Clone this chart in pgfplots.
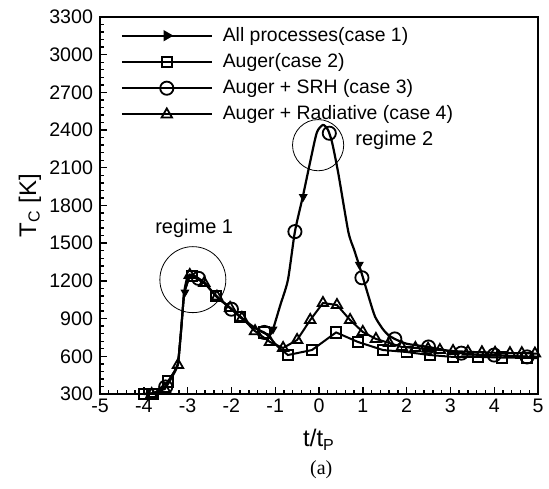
\documentclass[border=0pt]{standalone}
\usepackage{pgfplots}
\pgfplotsset{compat=1.18}
\usepackage{fontspec}
\setmainfont{Liberation Sans}
\newfontfamily\seriffont{Liberation Serif}
\begin{document}
\begin{tikzpicture}
\begin{axis}[
  scale only axis, width=219pt, height=188.5pt,
  xmin=-5, xmax=5, ymin=300, ymax=3300,
  xtick={-5,-4,-3,-2,-1,0,1,2,3,4,5},
  xticklabels={-5,-4,-3,-2,-1,0,1,2,3,4,5},
  ytick={300,600,900,1200,1500,1800,2100,2400,2700,3000,3300},
  yticklabels={300,600,900,1200,1500,1800,2100,2400,2700,3000,3300},
  minor x tick num=4, minor y tick num=4,
  tick align=inside, xtick pos=bottom, ytick pos=left,
  major tick length=3.5pt, minor tick length=2pt,
  axis line style={line width=1pt},
  every tick/.style={black, line width=0.7pt},
  tick label style={font=\fontsize{9.8}{11}\selectfont},
  xticklabel style={yshift=1pt},
  clip=false,
  xlabel={t/t\textsubscript{P}},
  ylabel={T\textsubscript{C} [K]},
  every axis x label/.style={at={(axis description cs:0.5,-0.122)}, anchor=center, font=\fontsize{12}{14}\selectfont},
  every axis y label/.style={at={(axis description cs:-0.16,0.5)}, rotate=90, anchor=center, font=\fontsize{12}{14}\selectfont},
  legend style={draw=none, fill=none, at={(0.042,0.99)}, anchor=north west,
    font=\fontsize{9.7}{11}\selectfont, row sep=0.6pt, inner sep=1pt,
    /tikz/every odd column/.append style={column sep=3pt}},
  legend cell align=left,
  legend image code/.code={\draw[mark repeat=2,mark phase=2] plot coordinates {(0pt,0pt)(22.5pt,0pt)(45pt,0pt)};},
]
\addlegendimage{black, line width=1pt, mark=triangle*, mark size=2.3pt, mark options={rotate=-90, fill=black, solid}}
\addlegendentry{All processes(case 1)}
\addlegendimage{black, line width=1pt, mark=square, mark size=2.6pt, mark options={fill=white, line width=0.9pt}}
\addlegendentry{Auger(case 2)}
\addlegendimage{black, line width=1pt, mark=o, mark size=3.3pt, mark options={fill=white, line width=0.9pt}}
\addlegendentry{Auger + SRH (case 3)}
\addlegendimage{black, line width=1pt, mark=triangle, mark size=3pt, mark options={fill=white, line width=0.9pt}}
\addlegendentry{Auger + Radiative (case 4)}

% case 2 line
\addplot[black, line width=1pt, forget plot] coordinates {
(-4.0,300)(-3.75,308)(-3.45,400)(-3.3,480)(-3.22,540)(-3.15,800)(-3.08,1104)(-2.95,1240)(-2.9,1240)(-2.75,1215)(-2.6,1180)(-2.35,1080)(-2.03,985)(-1.8,910)(-1.5,830)(-1.25,790)(-1.1,740)(-0.95,680)(-0.71,610)(-0.16,650)(0.39,790)(0.89,714)(1.46,650)(2.0,634)(2.53,610)(3.06,595)(3.63,595)(4.18,590)(4.75,587)(5,585)};
% case 4 line
\addplot[black, line width=1pt, forget plot] coordinates {
(-4.0,300)(-3.82,300)(-3.52,340)(-3.22,531)(-3.15,800)(-3.08,1104)(-2.95,1247)(-2.62,1183)(-2.33,1075)(-2.03,985)(-1.76,905)(-1.46,800)(-1.12,714)(-0.82,666)(-0.5,730)(-0.2,889)(0.09,1024)(0.41,1008)(0.71,889)(1.0,794)(1.3,738)(1.6,706)(1.89,674)(2.2,666)(2.49,660)(2.76,650)(3.06,642)(3.4,636)(3.72,632)(4.02,628)(4.36,625)(4.63,625)(4.93,622)(5,622)};
% case 1 / case 3 line
\addplot[black, line width=1.1pt, smooth, tension=0.4, forget plot] coordinates {
(-4.0,300)(-3.75,308)(-3.5,356)(-3.35,440)(-3.22,540)(-3.15,800)(-3.08,1104)(-3.0,1235)(-2.9,1250)(-2.75,1220)(-2.6,1180)(-2.33,1072)(-2.03,985)(-1.76,905)(-1.5,835)(-1.28,790)(-1.12,772)(-1.05,815)(-0.89,1000)(-0.71,1207)(-0.55,1592)(-0.37,1870)(-0.2,2150)(-0.05,2380)(0.09,2441)(0.2,2405)(0.3,2300)(0.44,2057)(0.67,1590)(0.8,1450)(0.92,1320)(1.0,1230)(1.15,1055)(1.28,915)(1.45,820)(1.58,770)(1.73,738)(2.0,700)(2.5,674)(3.0,640)(3.25,625)(3.5,615)(4.0,610)(4.5,600)(4.75,595)(5.0,592)};

% case 2 marks
\addplot[only marks, mark=square, mark size=2.6pt, mark options={fill=white, line width=0.9pt}, forget plot] coordinates {
(-4.0,300)(-3.8,300)(-3.45,400)(-2.9,1240)(-2.35,1080)(-1.8,910)(-1.25,790)(-0.71,610)(-0.16,650)(0.39,790)(0.89,714)(1.46,650)(2.0,634)(2.53,610)(3.06,595)(3.63,595)(4.18,590)(4.75,587)};
% case 3 marks
\addplot[only marks, mark=o, mark size=3.3pt, mark options={fill=white, line width=0.9pt}, forget plot] coordinates {
(-3.5,356)(-2.75,1220)(-2.0,975)(-1.25,790)(-0.55,1592)(0.235,2375)(0.98,1225)(1.73,738)(2.5,674)(3.25,625)(4.0,610)(4.75,595)};
% case 4 marks
\addplot[only marks, mark=triangle, mark size=3pt, mark options={fill=white, line width=0.9pt}, forget plot] coordinates {
(-3.82,300)(-3.52,340)(-3.22,531)(-2.95,1247)(-2.62,1183)(-2.33,1075)(-2.03,985)(-1.76,905)(-1.46,800)(-1.12,714)(-0.82,666)(-0.5,730)(-0.2,889)(0.09,1024)(0.41,1008)(0.71,889)(1.0,794)(1.3,738)(1.6,706)(1.89,674)(2.2,666)(2.49,660)(2.76,650)(3.06,642)(3.4,636)(3.72,632)(4.02,628)(4.36,625)(4.63,625)(4.93,622)};
% case 1 arrow marks
\addplot[only marks, mark=triangle*, mark size=2.2pt, mark options={rotate=180, fill=black}, forget plot] coordinates {
(-3.06,1110)(-1.05,815)(-0.36,1870)(0.92,1330)};

\draw[line width=0.4pt] (axis cs:-2.88,1210) circle[radius=16.5pt];
\draw[line width=0.4pt] (axis cs:-0.02,2280) circle[radius=12.8pt];
\node[font=\fontsize{10}{12}\selectfont] at (axis cs:-2.85,1620) {regime 1};
\node[font=\fontsize{10}{12}\selectfont] at (axis cs:1.72,2322) {regime 2};
\node[font=\seriffont\fontsize{10}{12}\selectfont] at (axis description cs:0.505,-0.2) {(a)};
\end{axis}
\pgfresetboundingbox
\path[use as bounding box] (current axis.south west) ++(-50pt,-47.5pt) rectangle ([shift={(5.5pt,8.5pt)}]current axis.north east);
\end{tikzpicture}
\end{document}
